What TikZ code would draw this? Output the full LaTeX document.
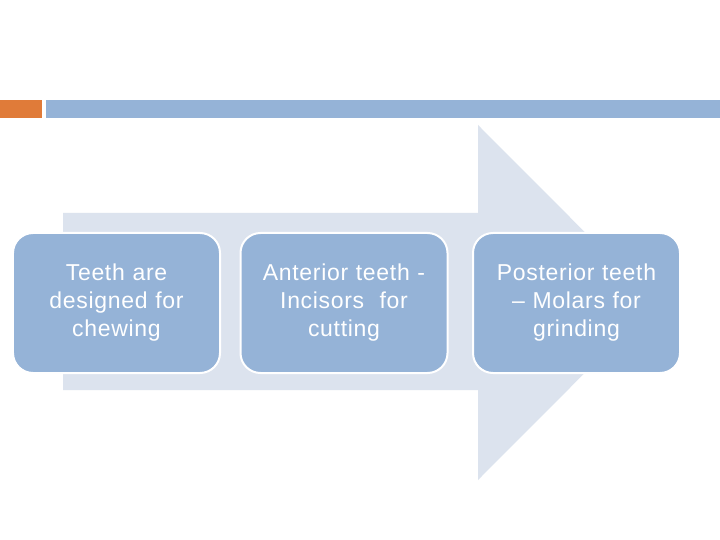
\documentclass[tikz,border=0pt]{standalone}
\usepackage{fontspec}
\setmainfont{Liberation Sans}[LetterSpace=3]
\definecolor{barorange}{RGB}{224,123,57}
\definecolor{barblue}{RGB}{149,179,215}
\definecolor{boxblue}{RGB}{149,179,215}
\definecolor{arrowfill}{RGB}{220,227,238}
\tikzset{
  stepbox/.style={draw=white, line width=2bp, fill=boxblue, rounded corners=20bp,
    minimum width=207bp, minimum height=140bp, text width=200bp, align=center,
    text=white, font=\fontsize{23bp}{28bp}\selectfont, inner sep=0pt},
}
\begin{document}
\begin{tikzpicture}[x=1bp,y=-1bp]
\useasboundingbox (0,0) rectangle (720,540);
\fill[white] (0,0) rectangle (720,540);
% top bars
\fill[barorange] (0,100) rectangle (42,118);
\fill[barblue] (46,100) rectangle (720,118);
% big arrow
\fill[arrowfill] (63,213) -- (478,213) -- (478,125) -- (655,302.5) -- (478,480) -- (478,390) -- (63,390) -- cycle;
% boxes
\node[stepbox] (b1) at (116.5,303) {Teeth are\\designed for\\chewing};
\node[stepbox] (b2) at (344,303) {Anterior teeth -\\Incisors\ \ for\\cutting};
\node[stepbox] (b3) at (576.5,303) {Posterior teeth\\– Molars for\\grinding};
\end{tikzpicture}
\end{document}
